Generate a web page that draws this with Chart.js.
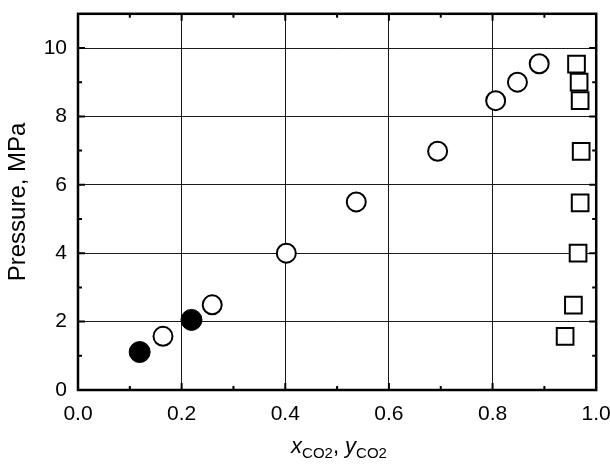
<!DOCTYPE html>
<html lang="en">
<head>
<meta charset="UTF-8">
<meta name="viewport" content="width=device-width, initial-scale=1.0">
<title>Pressure vs CO2 mole fraction</title>
<style>
  body { margin: 0; background: #fff; }
  #wrap { width: 610px; height: 464px; }
</style>
</head>
<body>
<div id="wrap"><canvas id="chart"></canvas></div>
<script src="https://cdn.jsdelivr.net/npm/chart.js"></script>
<script>
  // liquid phase, filled circles
  const filledX = [0.119, 0.219];
  const filledP = [1.11, 2.05];
  // liquid phase, open circles
  const liquidX = [0.164, 0.259, 0.402, 0.537, 0.694, 0.806, 0.848, 0.890];
  const liquidP = [1.57, 2.49, 4.0, 5.5, 6.98, 8.46, 9.0, 9.54];
  // vapour phase, open squares (highest pressure first, lower ones sit on top)
  const vapourY = [0.962, 0.967, 0.969, 0.971, 0.969, 0.965, 0.956, 0.940];
  const vapourP = [9.53, 9.0, 8.46, 6.98, 5.47, 4.0, 2.48, 1.57];

  const xTicks = [0, 0.2, 0.4, 0.6, 0.8, 1.0];
  const yTicks = [0, 2, 4, 6, 8, 10];
  const yTitle = 'Pressure, MPa';

  const FONT = "'Liberation Sans', Arial, sans-serif";

  function pts(xs, ys) {
    return xs.map((x, i) => ({ x: x, y: ys[i] }));
  }

  // inward ticks on all four sides + the box
  const frame = {
    id: 'frame',
    afterDatasetsDraw(chart) {
      const { ctx, chartArea: a, scales: { x, y } } = chart;
      ctx.save();
      ctx.strokeStyle = '#000';
      ctx.lineWidth = 2;
      ctx.beginPath();
      for (let i = 1; i < 10; i++) {
        const px = x.getPixelForValue(i / 10);
        const len = i % 2 ? 4 : 7;
        ctx.moveTo(px, a.bottom); ctx.lineTo(px, a.bottom - len);
        ctx.moveTo(px, a.top); ctx.lineTo(px, a.top + len);
      }
      for (let i = 1; i <= 10; i++) {
        const py = y.getPixelForValue(i);
        const len = i % 2 ? 4 : 7;
        ctx.moveTo(a.left, py); ctx.lineTo(a.left + len, py);
        ctx.moveTo(a.right, py); ctx.lineTo(a.right - len, py);
      }
      ctx.stroke();
      ctx.lineWidth = 2.5;
      ctx.strokeRect(a.left, a.top, a.right - a.left, a.bottom - a.top);
      ctx.restore();
    }
  };

  // x axis title with subscripts
  const xTitle = {
    id: 'xTitle',
    afterDraw(chart) {
      const ctx = chart.ctx;
      const big = 'italic 22px ' + FONT;
      const norm = '22px ' + FONT;
      const sub = '15px ' + FONT;
      const parts = [['x', big, 0], ['CO2', sub, 5], [', ', norm, 0], ['y', big, 0], ['CO2', sub, 5]];
      ctx.save();
      ctx.fillStyle = '#000';
      ctx.textBaseline = 'alphabetic';
      let total = 0;
      parts.forEach(p => { ctx.font = p[1]; total += ctx.measureText(p[0]).width; });
      let cx = 339 - total / 2;
      parts.forEach(p => {
        ctx.font = p[1];
        ctx.fillText(p[0], cx, 453 + p[2]);
        cx += ctx.measureText(p[0]).width;
      });
      ctx.restore();
    }
  };

  new Chart(document.getElementById('chart'), {
    type: 'scatter',
    data: {
      datasets: [
        {
          data: pts(filledX, filledP),
          pointStyle: 'circle',
          pointRadius: 10.5,
          pointHoverRadius: 10.5,
          pointBackgroundColor: '#000',
          pointBorderColor: '#000',
          pointBorderWidth: 1
        },
        {
          data: pts(liquidX, liquidP),
          pointStyle: 'circle',
          pointRadius: 9.5,
          pointHoverRadius: 9.5,
          pointBackgroundColor: '#fff',
          pointBorderColor: '#000',
          pointBorderWidth: 2
        },
        {
          data: pts(vapourY, vapourP),
          pointStyle: 'rect',
          pointRadius: 11.8,
          pointHoverRadius: 11.8,
          pointBackgroundColor: '#fff',
          pointBorderColor: '#000',
          pointBorderWidth: 2
        }
      ]
    },
    options: {
      responsive: true,
      maintainAspectRatio: false,
      animation: false,
      events: [],
      layout: { padding: { top: 10, right: 12, left: 0, bottom: 0 } },
      plugins: {
        legend: { display: false },
        tooltip: { enabled: false }
      },
      scales: {
        x: {
          type: 'linear',
          min: 0,
          max: 1,
          afterBuildTicks: s => { s.ticks = xTicks.map(v => ({ value: v })); },
          afterFit: s => { s.height = 74; s.paddingLeft = 0; s.paddingRight = 0; },
          ticks: {
            font: { family: FONT, size: 21 },
            color: '#000',
            padding: 12,
            callback: v => v.toFixed(1)
          },
          grid: { color: '#1a1a1a', lineWidth: 1, drawTicks: false },
          border: { display: false }
        },
        y: {
          type: 'linear',
          min: 0,
          max: 11,
          afterBuildTicks: s => { s.ticks = yTicks.map(v => ({ value: v })); },
          afterFit: s => { s.width = 78; s.paddingTop = 0; s.paddingBottom = 0; },
          ticks: {
            font: { family: FONT, size: 21 },
            color: '#000',
            padding: 11
          },
          grid: { color: '#1a1a1a', lineWidth: 1, drawTicks: false },
          border: { display: false },
          title: {
            display: true,
            text: yTitle,
            color: '#000',
            font: { family: FONT, size: 24 },
            padding: { top: 4, bottom: 0 }
          }
        }
      }
    },
    plugins: [frame, xTitle]
  });
</script>
</body>
</html>
